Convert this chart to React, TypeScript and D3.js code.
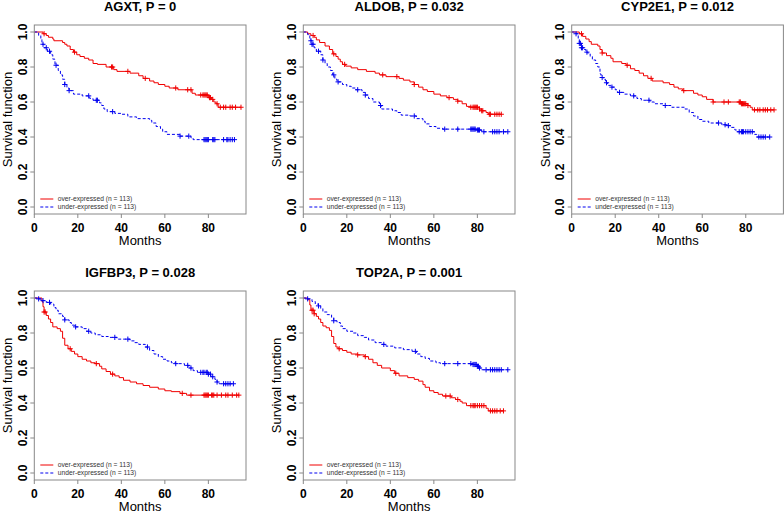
import { useEffect, useRef } from "react";
import * as d3 from "d3";

// [month, survival] after each drop, and times of censored cases
const agxtOverSteps = [[4, 0.99], [5.5, 0.98], [6.5, 0.97], [8.5, 0.96], [9, 0.95], [13, 0.94], [14, 0.93], [15, 0.92], [16.5, 0.9], [18, 0.885], [19.5, 0.87], [21, 0.86], [23, 0.85], [25, 0.84], [27, 0.82], [29, 0.815], [33, 0.8], [36.5, 0.785], [38, 0.775], [44, 0.765], [48, 0.75], [50, 0.735], [53, 0.72], [55, 0.71], [57, 0.7], [60, 0.69], [62, 0.68], [66, 0.67], [72.5, 0.65], [74, 0.64], [80, 0.625], [81.5, 0.615], [82.5, 0.6], [83.5, 0.59], [84.5, 0.57]];
const agxtOverCensor = [4.5, 18.5, 35.5, 36, 43, 51, 65, 70.5, 72, 76.5, 77.5, 78, 78.5, 79, 79.5, 80.5, 81, 82, 84, 85.5, 87, 88, 90, 91, 92.5, 95];
const agxtUnderSteps = [[2, 0.98], [3, 0.96], [3.5, 0.93], [4.5, 0.91], [6, 0.89], [7.5, 0.87], [8.5, 0.845], [9.5, 0.81], [11, 0.78], [12, 0.755], [13, 0.73], [14, 0.7], [15, 0.68], [16, 0.665], [18, 0.645], [22, 0.635], [25.5, 0.62], [27, 0.61], [30, 0.595], [31, 0.58], [32, 0.56], [33.5, 0.545], [37, 0.535], [40, 0.53], [43, 0.515], [47, 0.505], [53, 0.495], [54, 0.48], [56, 0.46], [58, 0.445], [59, 0.43], [61, 0.415], [67, 0.405], [72, 0.395], [73, 0.385]];
const agxtUnderCensor = [4, 5.5, 7, 10, 14, 16, 25, 28.5, 29, 36, 67, 71, 78, 78.5, 79, 79.5, 80, 82, 82.5, 83, 87, 88.5, 89, 90, 91, 92];

const aldobOverSteps = [[2, 0.99], [3.5, 0.98], [5, 0.97], [6, 0.955], [7.5, 0.94], [10, 0.92], [12, 0.9], [13.5, 0.875], [15, 0.86], [16, 0.845], [17, 0.83], [18, 0.815], [19.5, 0.805], [22, 0.795], [25, 0.785], [29, 0.775], [33, 0.765], [35, 0.755], [38, 0.745], [44, 0.735], [46, 0.725], [49, 0.715], [51, 0.7], [53, 0.685], [55, 0.67], [57, 0.66], [60, 0.645], [63, 0.635], [66, 0.625], [69, 0.615], [71, 0.605], [73, 0.59], [75, 0.575], [77, 0.57], [81, 0.56], [82, 0.55], [84, 0.54], [85, 0.53]];
const aldobOverCensor = [4.5, 14, 19, 36.5, 43, 51, 67, 71, 77, 78, 78.5, 79, 79.5, 80, 81, 82, 82.5, 85.5, 86, 88, 89, 90, 91];
const aldobUnderSteps = [[2, 0.985], [3, 0.96], [3.5, 0.95], [4, 0.93], [5, 0.91], [6, 0.89], [8, 0.87], [9, 0.84], [10, 0.82], [11, 0.8], [12.5, 0.78], [13.5, 0.755], [14.5, 0.73], [15.5, 0.715], [18, 0.7], [20, 0.69], [22, 0.68], [24, 0.67], [27, 0.655], [28.5, 0.64], [30, 0.62], [32, 0.6], [35, 0.58], [36, 0.56], [41, 0.55], [43, 0.54], [45, 0.525], [49, 0.52], [52, 0.505], [55, 0.49], [56, 0.475], [58, 0.46], [61, 0.45], [64, 0.445], [80, 0.44], [82, 0.43]];
const aldobUnderCensor = [3.5, 4, 4.5, 7, 9, 14, 16, 25, 28.5, 35.5, 51, 65, 71, 77, 77.5, 78, 78.5, 79, 80, 80.5, 81, 83, 87, 88, 89, 90, 92, 94];

const cypOverSteps = [[3.5, 0.99], [5, 0.975], [6.5, 0.96], [8, 0.945], [9, 0.93], [12, 0.92], [13, 0.9], [14, 0.88], [16, 0.865], [18, 0.85], [19, 0.83], [23, 0.82], [25, 0.81], [27, 0.79], [29, 0.78], [31, 0.765], [33, 0.75], [35, 0.735], [37, 0.72], [42, 0.71], [45, 0.7], [47, 0.685], [49, 0.675], [51, 0.665], [56, 0.65], [58, 0.64], [60, 0.63], [62, 0.615], [65, 0.6], [78, 0.59], [81, 0.58], [82, 0.57], [83, 0.555]];
const cypOverCensor = [4.5, 14, 25.5, 36.5, 51.5, 65, 70, 72, 77, 77.5, 78, 78.5, 79, 79.5, 80, 81, 84, 85.5, 86.5, 88, 89, 90, 91.5, 93];
const cypUnderSteps = [[2, 0.99], [3, 0.96], [3.5, 0.935], [4.5, 0.91], [5.5, 0.9], [6.5, 0.885], [7.5, 0.875], [8.5, 0.86], [9.5, 0.84], [11, 0.82], [12, 0.8], [13, 0.76], [13.5, 0.74], [14.5, 0.73], [15.5, 0.71], [16.5, 0.695], [18, 0.685], [20, 0.67], [21, 0.655], [24, 0.645], [27, 0.635], [30, 0.62], [32, 0.61], [36, 0.6], [38, 0.59], [42, 0.58], [46, 0.57], [52, 0.56], [54, 0.54], [56, 0.52], [58, 0.5], [60, 0.49], [63, 0.48], [69, 0.47], [71, 0.465], [73, 0.455], [75, 0.44], [76, 0.43], [84, 0.415], [85, 0.4]];
const cypUnderCensor = [2, 3.5, 4, 4.5, 5, 7, 14, 16, 18.5, 22, 28.5, 35.5, 43, 67.5, 70.5, 72, 77, 78, 78.5, 79, 80, 81, 82, 83, 86, 87, 88, 89, 91];

const igfOverSteps = [[3.5, 0.98], [4, 0.95], [4.5, 0.92], [5.5, 0.9], [6.5, 0.88], [7.5, 0.86], [8.5, 0.835], [10.5, 0.825], [12, 0.81], [13, 0.77], [14, 0.73], [15.5, 0.71], [17, 0.695], [18.5, 0.68], [20, 0.665], [22, 0.65], [24, 0.64], [26, 0.63], [28, 0.625], [30, 0.61], [31, 0.595], [33, 0.58], [35, 0.565], [37, 0.555], [39, 0.545], [41, 0.53], [44, 0.52], [47, 0.51], [50, 0.5], [53, 0.49], [57, 0.48], [60, 0.47], [63, 0.465], [67, 0.455], [70, 0.445]];
const igfOverCensor = [4.5, 5, 16.5, 28.5, 36, 68, 72, 78, 78.5, 79, 79.5, 80, 81.5, 82, 82.5, 84, 86, 88, 89, 91, 93, 94];
const igfUnderSteps = [[2, 0.995], [3, 0.985], [5.5, 0.975], [7.5, 0.965], [9, 0.945], [10, 0.93], [11, 0.91], [13, 0.895], [14, 0.875], [16, 0.86], [17, 0.845], [18.5, 0.835], [22, 0.825], [24, 0.81], [26, 0.8], [28, 0.79], [31, 0.78], [34, 0.775], [38, 0.765], [44, 0.755], [46, 0.745], [48, 0.735], [51, 0.72], [53, 0.7], [55, 0.68], [57, 0.665], [59, 0.65], [61, 0.64], [63, 0.63], [65, 0.625], [69, 0.615], [71, 0.6], [73, 0.585], [75, 0.575], [80, 0.565], [81.5, 0.55], [83, 0.535], [84, 0.52], [85, 0.51]];
const igfUnderCensor = [2, 4, 7, 14, 19, 25, 37, 43, 52, 65, 70.5, 72, 76.5, 77.5, 78, 79, 79.5, 80, 81, 82, 84, 87, 88, 89, 90, 91.5];

const topOverSteps = [[2, 0.99], [3, 0.96], [3.5, 0.93], [5, 0.91], [6, 0.895], [7, 0.88], [8, 0.86], [9, 0.84], [10.5, 0.83], [12, 0.815], [13, 0.78], [14, 0.74], [15, 0.72], [16, 0.71], [18, 0.7], [20, 0.69], [22, 0.68], [25, 0.675], [28, 0.665], [30, 0.65], [32, 0.63], [34, 0.615], [36, 0.6], [40, 0.585], [42, 0.57], [44, 0.555], [48, 0.545], [51, 0.535], [53, 0.525], [55, 0.505], [56, 0.49], [58, 0.47], [60, 0.46], [62, 0.45], [64, 0.44], [68, 0.43], [70, 0.42], [72, 0.41], [73, 0.4], [75, 0.385], [84, 0.37], [85, 0.355]];
const topOverCensor = [4, 4.5, 5, 16.5, 25, 28.5, 42.5, 65.5, 67.5, 71, 77, 78, 78.5, 79, 80, 81, 82, 83, 86, 87, 88, 89, 90.5, 92];
const topUnderSteps = [[2, 0.995], [4, 0.98], [5.5, 0.965], [7, 0.955], [8, 0.94], [9, 0.92], [11, 0.905], [13, 0.89], [14, 0.87], [15.5, 0.86], [17, 0.84], [18, 0.825], [20, 0.81], [23, 0.8], [25, 0.785], [28, 0.775], [30, 0.76], [33, 0.745], [36, 0.735], [38, 0.725], [42, 0.715], [46, 0.705], [50, 0.695], [52, 0.68], [54, 0.665], [56, 0.655], [58, 0.64], [61, 0.63], [63, 0.625], [78, 0.62], [80, 0.61], [81, 0.6], [82, 0.59]];
const topUnderCensor = [2, 7, 14, 37, 51.5, 65, 71, 77, 78, 78.5, 79, 79.5, 80, 80.5, 81, 84, 86, 87, 88, 89, 90, 91, 94];

const xTicks = [0, 20, 40, 60, 80];
const yTicks = [0, 0.2, 0.4, 0.6, 0.8, 1.0];
const legendLabels = ["over-expressed (n = 113)", "under-expressed (n = 113)"];

const panels = [
  { title: "AGXT, P = 0", left: 34.3, top: 25, over: [agxtOverSteps, agxtOverCensor], under: [agxtUnderSteps, agxtUnderCensor] },
  { title: "ALDOB, P = 0.032", left: 303.3, top: 25, over: [aldobOverSteps, aldobOverCensor], under: [aldobUnderSteps, aldobUnderCensor] },
  { title: "CYP2E1, P = 0.012", left: 571.7, top: 25, over: [cypOverSteps, cypOverCensor], under: [cypUnderSteps, cypUnderCensor] },
  { title: "IGFBP3, P = 0.028", left: 34.3, top: 291, over: [igfOverSteps, igfOverCensor], under: [igfUnderSteps, igfUnderCensor] },
  { title: "TOP2A, P = 0.001", left: 303.3, top: 291, over: [topOverSteps, topOverCensor], under: [topUnderSteps, topUnderCensor] },
];

const boxW = 211.7;
const boxH = 189;
const font = "'Liberation Sans', Arial, sans-serif";

const App = () => {
  const svgRef = useRef<SVGSVGElement>(null);

  useEffect(() => {
    const svg = d3.select(svgRef.current);
    svg.selectAll("*").remove();

    panels.forEach((p) => {
      const g = svg.append("g").attr("transform", `translate(${p.left},${p.top})`);
      const x = d3.scaleLinear().domain([0, 97.3]).range([0, boxW]);
      const y = d3.scaleLinear().domain([-0.04, 1.04]).range([boxH, 0]);

      const drawCurve = (steps, censor, color, dash) => {
        const last = Math.max(steps[steps.length - 1][0], d3.max(censor));
        const pts: [number, number][] = [[0, 1]];
        let s = 1;
        steps.forEach(([t, v]) => {
          pts.push([t, s]);
          pts.push([t, v]);
          s = v;
        });
        pts.push([last, s]);
        const line = d3.line<[number, number]>().x((d) => x(d[0])).y((d) => y(d[1]));
        g.append("path")
          .attr("d", line(pts))
          .attr("fill", "none")
          .attr("stroke", color)
          .attr("stroke-width", 1)
          .attr("stroke-dasharray", dash);
        const survAt = (t) => {
          let v = 1;
          steps.forEach((st) => {
            if (st[0] <= t) v = st[1];
          });
          return v;
        };
        censor.forEach((t) => {
          const cx = x(t);
          const cy = y(survAt(t));
          g.append("path")
            .attr("d", `M${cx - 2.6},${cy}H${cx + 2.6}M${cx},${cy - 2.6}V${cy + 2.6}`)
            .attr("stroke", color)
            .attr("stroke-width", 1);
        });
      };

      drawCurve(p.over[0], p.over[1], "#f00000", null);
      drawCurve(p.under[0], p.under[1], "#0000f0", "3,2");

      // box
      g.append("rect")
        .attr("width", boxW)
        .attr("height", boxH)
        .attr("fill", "none")
        .attr("stroke", "#888")
        .attr("stroke-width", 1);

      // x axis
      xTicks.forEach((t) => {
        g.append("line")
          .attr("x1", x(t)).attr("x2", x(t))
          .attr("y1", boxH).attr("y2", boxH + 4)
          .attr("stroke", "#888");
        g.append("text")
          .attr("x", x(t))
          .attr("y", boxH + 17.5)
          .attr("text-anchor", "middle")
          .attr("font-family", font)
          .attr("font-size", 12)
          .attr("font-weight", "bold")
          .text(t);
      });
      g.append("text")
        .attr("x", boxW / 2)
        .attr("y", boxH + 31)
        .attr("text-anchor", "middle")
        .attr("font-family", font)
        .attr("font-size", 13)
        .text("Months");

      // y axis
      yTicks.forEach((t) => {
        g.append("line")
          .attr("x1", 0).attr("x2", -4)
          .attr("y1", y(t)).attr("y2", y(t))
          .attr("stroke", "#888");
        g.append("text")
          .attr("transform", `translate(-7.5,${y(t)}) rotate(-90)`)
          .attr("text-anchor", "middle")
          .attr("font-family", font)
          .attr("font-size", 12)
          .attr("font-weight", "bold")
          .text(t.toFixed(1));
      });
      g.append("text")
        .attr("transform", `translate(-22,${y(0.5)}) rotate(-90)`)
        .attr("text-anchor", "middle")
        .attr("font-family", font)
        .attr("font-size", 13)
        .text("Survival function");

      // title
      g.append("text")
        .attr("x", boxW / 2)
        .attr("y", -14)
        .attr("text-anchor", "middle")
        .attr("font-family", font)
        .attr("font-size", 13)
        .attr("font-weight", "bold")
        .text(p.title);

      // legend
      legendLabels.forEach((lab, i) => {
        const ly = boxH - 15 + i * 8;
        g.append("line")
          .attr("x1", 6).attr("x2", 19)
          .attr("y1", ly).attr("y2", ly)
          .attr("stroke", i === 0 ? "#f00000" : "#0000f0")
          .attr("stroke-dasharray", i === 0 ? null : "3,2");
        g.append("text")
          .attr("x", 23.5)
          .attr("y", ly + 2.4)
          .attr("font-family", font)
          .attr("font-size", 6.7)
          .attr("fill", "#333")
          .text(lab);
      });
    });
  }, []);

  return (
    <svg
      ref={svgRef}
      width={784}
      height={514}
      style={{ position: "absolute", left: 0, top: 0, background: "#fff" }}
    />
  );
};

export default App;
